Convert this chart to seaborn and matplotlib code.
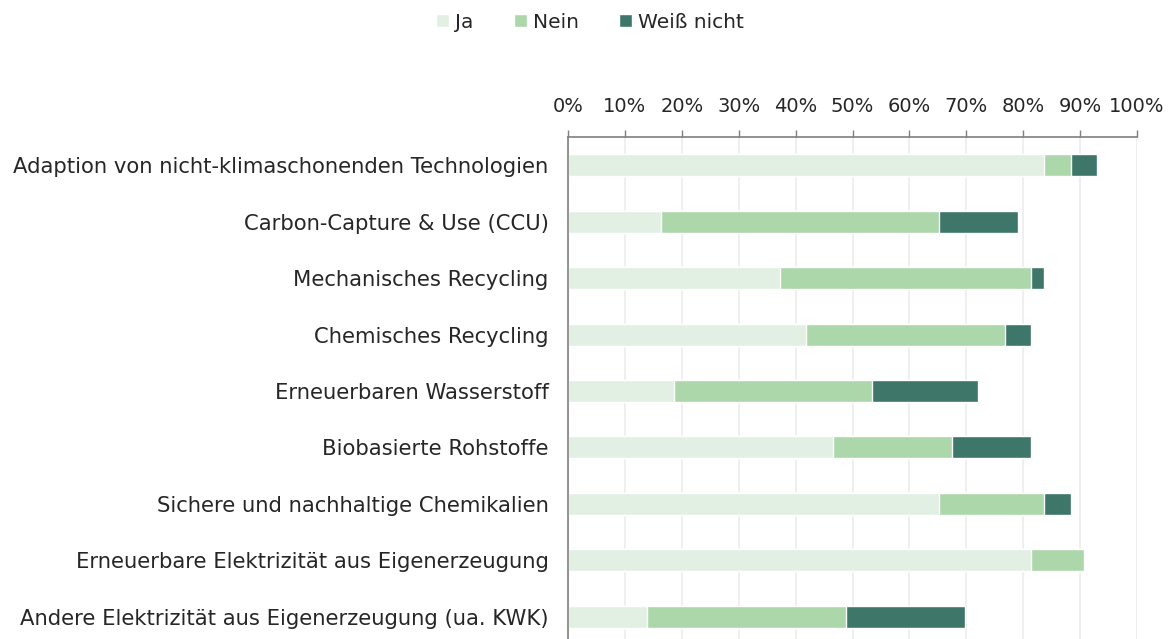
import pandas as pd
import seaborn as sns
import matplotlib.pyplot as plt

# Anteile in Prozent (n = 43)
kategorien = [
    "Adaption von nicht-klimaschonenden Technologien",
    "Carbon-Capture & Use (CCU)",
    "Mechanisches Recycling",
    "Chemisches Recycling",
    "Erneuerbaren Wasserstoff",
    "Biobasierte Rohstoffe",
    "Sichere und nachhaltige Chemikalien",
    "Erneuerbare Elektrizität aus Eigenerzeugung",
    "Andere Elektrizität aus Eigenerzeugung (ua. KWK)",
]
ja = [83.72, 16.28, 37.21, 41.86, 18.60, 46.51, 65.12, 81.40, 13.95]
nein = [4.65, 48.84, 44.19, 34.88, 34.88, 20.93, 18.60, 9.30, 34.88]
weiss_nicht = [4.65, 13.95, 2.33, 4.65, 18.60, 13.95, 4.65, 0.0, 20.93]
ticks = list(range(0, 101, 10))

farben = {"Ja": "#e2f0e3", "Nein": "#acd7aa", "Weiß nicht": "#3e7669"}

df = pd.DataFrame({"Kategorie": kategorien, "Ja": ja, "Nein": nein, "Weiß nicht": weiss_nicht})
df["cum_ja"] = df["Ja"]
df["cum_nein"] = df["cum_ja"] + df["Nein"]
df["cum_weiss"] = df["cum_nein"] + df["Weiß nicht"]

sns.set_theme(style="white")
plt.rcParams["font.family"] = ["DejaVu Sans"]
textfarbe = "#262626"

fig = plt.figure(figsize=(11.7, 6.39), dpi=100)
ax = fig.add_axes([568 / 1170, -6 / 639, 569 / 1170, 508 / 639])

# gestapelte Balken: Summen von hinten nach vorne zeichnen
for spalte, name in [("cum_weiss", "Weiß nicht"), ("cum_nein", "Nein"), ("cum_ja", "Ja")]:
    sns.barplot(data=df, x=spalte, y="Kategorie", color=farben[name], width=0.39,
                saturation=1, label=name, ax=ax, zorder=3)

ax.set_xlim(0, 100)
ax.set_ylim(8.5, -0.5)
ax.set_xticks(ticks)
ax.set_xticklabels([f"{t}%" for t in ticks], fontsize=14, color=textfarbe)
ax.xaxis.tick_top()
ax.tick_params(axis="x", which="both", top=True, bottom=False, length=5, width=1,
               color="#7f7f7f", direction="out", pad=10)
ax.tick_params(axis="y", left=False, length=0, labelsize=15.2, labelcolor=textfarbe, pad=14)
ax.set_xlabel("")
ax.set_ylabel("")
ax.grid(axis="x", color="#ececec", linewidth=1.2, zorder=0)
ax.set_axisbelow(True)
for s in ["right", "bottom"]:
    ax.spines[s].set_visible(False)
for s in ["left", "top"]:
    ax.spines[s].set_color("#7f7f7f")
    ax.spines[s].set_linewidth(1.2)
    ax.spines[s].set_zorder(5)

handles, labels = ax.get_legend_handles_labels()
order = [labels.index(n) for n in ["Ja", "Nein", "Weiß nicht"]]
fig.legend([handles[i] for i in order], [labels[i] for i in order], loc="center",
           bbox_to_anchor=(590 / 1170, 1 - 22 / 639), ncol=3, frameon=False, fontsize=14.5,
           handlelength=0.65, handleheight=0.65, handletextpad=0.3, columnspacing=2.0,
           labelcolor=textfarbe)
if ax.legend_:
    ax.legend_.remove()

fig.savefig("out.png", dpi=100)
